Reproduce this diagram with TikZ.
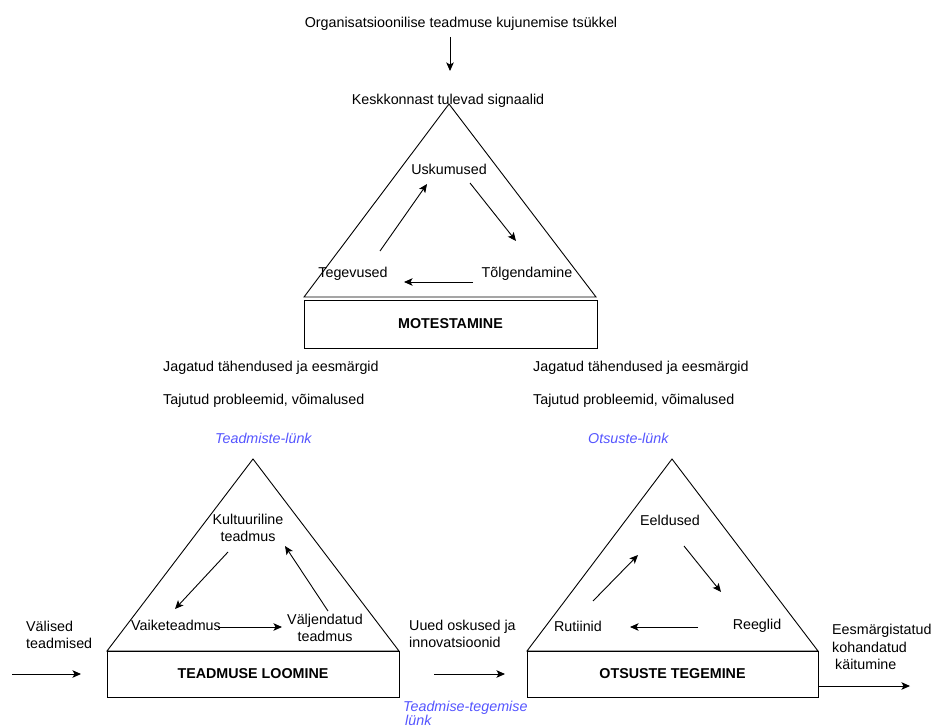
\documentclass[tikz,border=0pt]{standalone}
\usepackage{fontspec}
\setmainfont{Liberation Sans}
\usetikzlibrary{arrows.meta}
\definecolor{linkblue}{RGB}{85,85,255}
\begin{document}
\begin{tikzpicture}[x=1pt,y=-1pt,
  txt/.style={inner sep=0pt, font=\fontsize{14.3}{17.2}\selectfont},
  lnk/.style={inner sep=0pt, text=linkblue, font=\fontsize{14.3}{17.2}\selectfont\itshape},
  tri/.style={draw, line width=0.9pt, line join=miter},
  boxnode/.style={draw, line width=0.9pt, inner sep=0pt, font=\fontsize{14.3}{17.2}\selectfont\bfseries},
  arr/.style={line width=0.9pt, -{Stealth[length=8.5pt,width=7.5pt,inset=2pt]}}]
\useasboundingbox (0,0) rectangle (932,727);

% ---- top ----
\node[txt] (title) at (461,24) {Organisatsioonilise teadmuse kujunemise tsükkel};
\node[txt] (kesk) at (448,101) {Keskkonnast tulevad signaalid};
\coordinate (t0s) at (450,37);
\coordinate (t0e) at (450,71);
\draw[arr] (t0s) -- (t0e);

\draw[tri] (449,104) -- (304,297) -- (596,297) -- cycle;
\node[boxnode, minimum width=293pt, minimum height=48pt] (mot) at (450.5,324) {MOTESTAMINE};
\node[txt] (usk) at (449,169) {Uskumused};
\node[txt] (teg) at (353,274) {Tegevused};
\node[txt] (tol) at (527,274) {Tõlgendamine};
\coordinate (m1s) at (380,251); \coordinate (m1e) at (427,184);
\coordinate (m2s) at (470,183); \coordinate (m2e) at (516,241);
\coordinate (m3s) at (473,282); \coordinate (m3e) at (404,282);
\draw[arr] (m1s) -- (m1e);
\draw[arr] (m2s) -- (m2e);
\draw[arr] (m3s) -- (m3e);

% ---- middle texts ----
\node[txt, anchor=west] (jag1) at (163,368) {Jagatud tähendused ja eesmärgid};
\node[txt, anchor=west] (taj1) at (163,401) {Tajutud probleemid, võimalused};
\node[lnk, anchor=west] (tlunk) at (215,438) {Teadmiste-lünk};
\node[txt, anchor=west] (jag2) at (533,368) {Jagatud tähendused ja eesmärgid};
\node[txt, anchor=west] (taj2) at (533,401) {Tajutud probleemid, võimalused};
\node[lnk, anchor=west] (olunk) at (588,438) {Otsuste-lünk};

% ---- bottom left ----
\draw[tri] (253,459) -- (107,651) -- (399,651) -- cycle;
\node[boxnode, minimum width=292pt, minimum height=46pt] (loo) at (253,674) {TEADMUSE LOOMINE};
\node[txt, align=center] (kul) at (248,528) {Kultuuriline\\teadmus};
\node[txt] (vai) at (176,625) {Vaiketeadmus};
\node[txt, align=center] (val) at (325,627.5) {Väljendatud\\teadmus};
\coordinate (l1s) at (228,552); \coordinate (l1e) at (175,609);
\coordinate (l2s) at (218,627); \coordinate (l2e) at (282,627);
\coordinate (l3s) at (328,611); \coordinate (l3e) at (285,546);
\draw[arr] (l1s) -- (l1e);
\draw[arr] (l2s) -- (l2e);
\draw[arr] (l3s) -- (l3e);

\node[txt, align=left, anchor=west] (vali) at (26,635) {Välised\\teadmised};
\coordinate (in1s) at (12,674); \coordinate (in1e) at (81,674);
\draw[arr] (in1s) -- (in1e);

% ---- middle link ----
\node[txt, align=left, anchor=west] (uued) at (409,633.5) {Uued oskused ja\\innovatsioonid};
\coordinate (in2s) at (434,674); \coordinate (in2e) at (505,674);
\draw[arr] (in2s) -- (in2e);
\node[lnk, align=left, anchor=west, font=\fontsize{14.3}{14}\selectfont\itshape] (tglunk) at (403,713) {Teadmise-tegemise\\\hspace{2pt}lünk};

% ---- bottom right ----
\draw[tri] (672,459) -- (527,651) -- (818,651) -- cycle;
\node[boxnode, minimum width=291pt, minimum height=46pt] (ots) at (672.5,674) {OTSUSTE TEGEMINE};
\node[txt] (eel) at (670,520) {Eeldused};
\node[txt] (rut) at (578,626) {Rutiinid};
\node[txt] (ree) at (757,626) {Reeglid};
\coordinate (r1s) at (593,601); \coordinate (r1e) at (638,555);
\coordinate (r2s) at (684,546); \coordinate (r2e) at (721,592);
\coordinate (r3s) at (698,627); \coordinate (r3e) at (630,627);
\draw[arr] (r1s) -- (r1e);
\draw[arr] (r2s) -- (r2e);
\draw[arr] (r3s) -- (r3e);

\node[txt, align=left, anchor=west] (ees) at (832,647) {Eesmärgistatud\\kohandatud\\\hspace{3pt}käitumine};
\coordinate (outs) at (818,686); \coordinate (oute) at (910,686);
\draw[arr] (outs) -- (oute);
\end{tikzpicture}
\end{document}
